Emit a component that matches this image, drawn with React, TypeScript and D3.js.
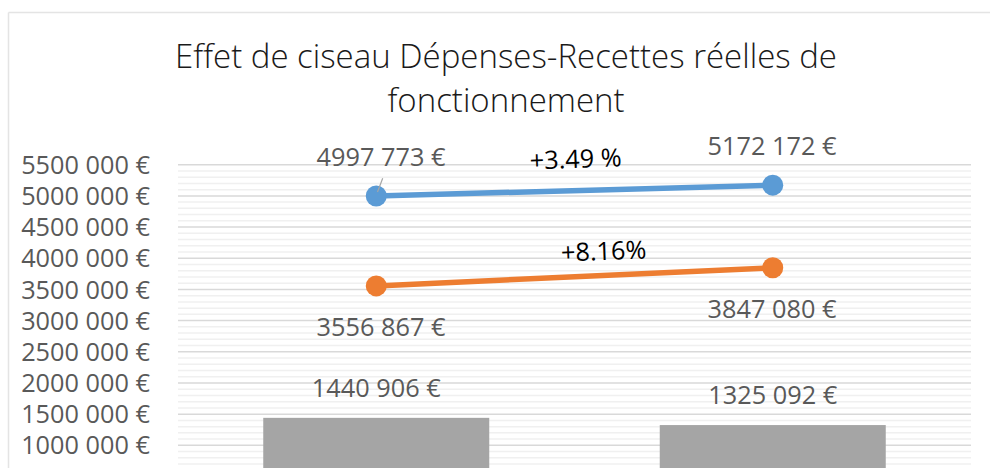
import React from "react";
import * as d3 from "d3";

const categories = ["2019", "2020"];
const depenses = [4997773, 5172172];
const recettes = [3556867, 3847080];
const bars = [1440906, 1325092];
const depensesLabels = ["4997 773 €", "5172 172 €"];
const recettesLabels = ["3556 867 €", "3847 080 €"];
const barLabels = ["1440 906 €", "1325 092 €"];
const yTicks = [1000000, 1500000, 2000000, 2500000, 3000000, 3500000, 4000000, 4500000, 5000000, 5500000];
const yTickLabels = ["1000 000 €", "1500 000 €", "2000 000 €", "2500 000 €", "3000 000 €", "3500 000 €", "4000 000 €", "4500 000 €", "5000 000 €", "5500 000 €"];
const growthLabels = ["+3.49 %", "+8.16%"];
const titleLines = ["Effet de ciseau Dépenses-Recettes réelles de", "fonctionnement"];

const W = 990;
const H = 468;
const FONT = "'Open Sans', sans-serif";
const FS = 25.3;

export default function App() {
  const x = d3.scaleBand<string>().domain(categories).range([178, 971]).paddingInner(0.43).paddingOuter(0.215);
  const y = d3.scaleLinear().domain([0, 5500000]).range([507.7, 164.7]);
  const minor = d3.range(0, 5500001, 100000);
  const cx = (c: string) => (x(c) as number) + x.bandwidth() / 2;
  const line = d3.line<number>().x((_, i) => cx(categories[i])).y((d) => y(d));

  return (
    <svg width={W} height={H} style={{ position: "absolute", left: 0, top: 0, background: "#fff" }} fontFamily={FONT}>
      <rect x={0} y={0} width={W} height={H} fill="#fff" />
      <line x1={8.5} y1={12.5} x2={W} y2={12.5} stroke="#e4e4e4" strokeWidth={1.5} />
      <line x1={8.5} y1={12.5} x2={8.5} y2={H} stroke="#e4e4e4" strokeWidth={1.5} />
      {titleLines.map((t, i) => (
        <text key={t} x={506} y={68 + i * 44} textAnchor="middle" fontSize={33} fontWeight={300} fill="#1a1a1a">{t}</text>
      ))}
      {minor.map((v) => (
        <line key={"m" + v} x1={178} x2={971} y1={y(v)} y2={y(v)} stroke={v % 500000 === 0 ? "#d9d9d9" : "#f0f0f0"} strokeWidth={1.5} />
      ))}
      {yTicks.map((v, i) => (
        <text key={"t" + v} x={150} y={y(v)} dy="0.36em" textAnchor="end" fontSize={FS} fill="#595959">{yTickLabels[i]}</text>
      ))}
      {bars.map((v, i) => (
        <rect key={"b" + i} x={x(categories[i])} y={y(v)} width={x.bandwidth()} height={y(0) - y(v)} fill="#a5a5a5" />
      ))}
      {bars.map((v, i) => (
        <text key={"bl" + i} x={cx(categories[i])} y={y(v) - 21} textAnchor="middle" fontSize={FS} fill="#595959">{barLabels[i]}</text>
      ))}
      <path d={line(depenses) as string} fill="none" stroke="#5b9bd5" strokeWidth={5.5} />
      <path d={line(recettes) as string} fill="none" stroke="#ed7d31" strokeWidth={5.5} />
      {depenses.map((v, i) => (
        <circle key={"dc" + i} cx={cx(categories[i])} cy={y(v)} r={10.5} fill="#5b9bd5" />
      ))}
      {recettes.map((v, i) => (
        <circle key={"rc" + i} cx={cx(categories[i])} cy={y(v)} r={10.5} fill="#ed7d31" />
      ))}
      <line x1={382.7} y1={178.3} x2={377.5} y2={192} stroke="#a6a6a6" strokeWidth={1.2} />
      <text x={381} y={166} textAnchor="middle" fontSize={FS} fill="#595959">{depensesLabels[0]}</text>
      <text x={772} y={155} textAnchor="middle" fontSize={FS} fill="#595959">{depensesLabels[1]}</text>
      <text x={381} y={336} textAnchor="middle" fontSize={FS} fill="#595959">{recettesLabels[0]}</text>
      <text x={772} y={318} textAnchor="middle" fontSize={FS} fill="#595959">{recettesLabels[1]}</text>
      <text x={576} y={168} textAnchor="middle" fontSize={FS} fill="#000" transform="rotate(-2 576 168)">{growthLabels[0]}</text>
      <text x={604} y={260} textAnchor="middle" fontSize={FS} fill="#000" transform="rotate(-2 604 260)">{growthLabels[1]}</text>
    </svg>
  );
}
